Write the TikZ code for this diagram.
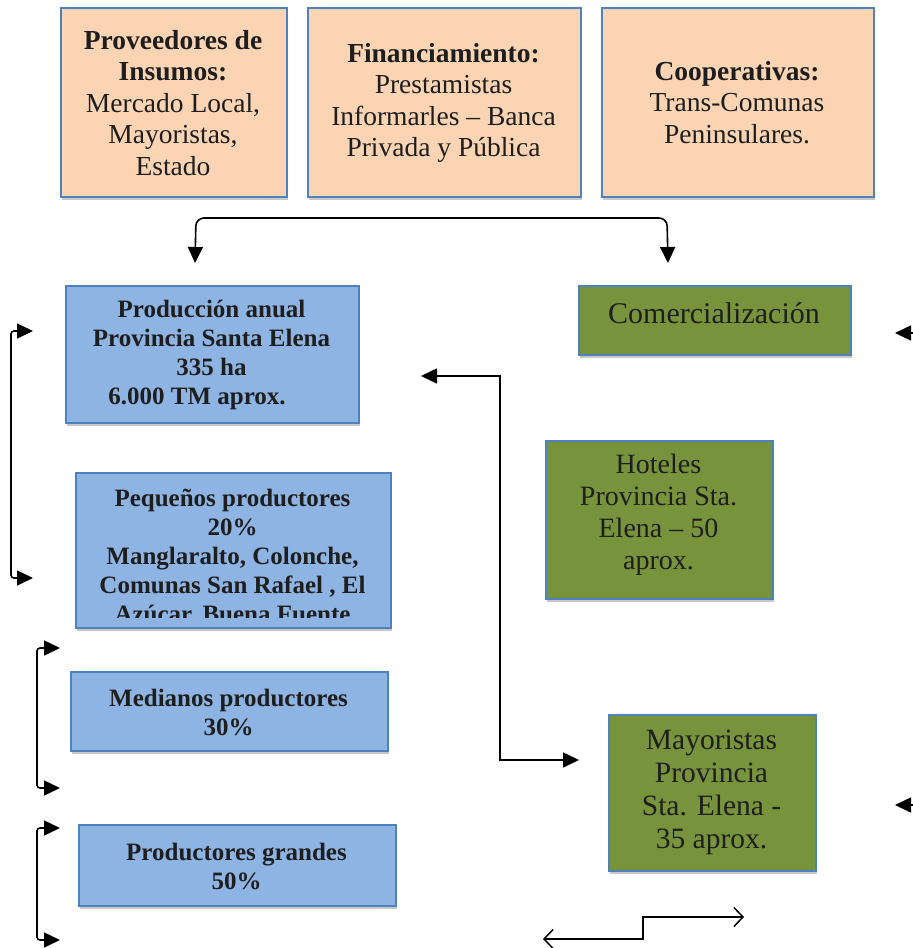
\documentclass[tikz,border=0pt]{standalone}
\usepackage{fontspec}
\setmainfont{Liberation Serif}
\usetikzlibrary{arrows.meta,shadows}
\definecolor{peach}{HTML}{FBD4B4}
\definecolor{bluefill}{HTML}{8EB4E3}
\definecolor{boxedge}{HTML}{4F81BD}
\definecolor{greenfill}{HTML}{77933C}
\definecolor{txt}{HTML}{1E1E1E}
\tikzset{
  box/.style={draw=boxedge,line width=1.5pt,inner sep=0pt,anchor=north west,
    drop shadow={shadow xshift=1.5pt,shadow yshift=-3.5pt,opacity=0.3,fill=black!70}},
  peachbox/.style={box,fill=peach},
  bluebox/.style={box,fill=bluefill},
  greenbox/.style={box,fill=greenfill},
  toptext/.style={align=center,text=txt,inner sep=0pt,font=\fontsize{27.5}{31.5}\selectfont},
  bluetext/.style={align=center,text=txt,inner sep=0pt,font=\bfseries\fontsize{25}{29}\selectfont},
  greentext/.style={align=center,text=txt,inner sep=0pt,font=\fontsize{28}{32}\selectfont},
  mytip/.tip={Triangle[length=16pt,width=15pt]},
  mybarb/.tip={Straight Barb[length=9pt,width=19pt]},
  conn/.style={line width=1.6pt,draw=black},
  openconn/.style={line width=1.5pt,draw=black,mybarb-mybarb}
}
\begin{document}
\begin{tikzpicture}[x=1pt,y=-1pt]
\path[use as bounding box,fill=white] (0,0) rectangle (913,948);

% top boxes
\node[peachbox,minimum width=226pt,minimum height=189pt] (prov) at (60,7) {};
\node[toptext] (provt) at (173,103) {\textbf{Proveedores de}\\\textbf{Insumos:}\\Mercado Local,\\Mayoristas,\\Estado};
\node[peachbox,minimum width=273pt,minimum height=189pt] (fin) at (307,7) {};
\node[toptext] (fint) at (443.5,103) {\textbf{Financiamiento:}\\Prestamistas\\Informarles -- Banca\\Privada y Pública};
\node[peachbox,minimum width=272pt,minimum height=189pt] (coop) at (601,7) {};
\node[toptext] (coopt) at (737,102.5) {\textbf{Cooperativas:}\\Trans-Comunas\\Peninsulares.};

% blue boxes
\node[bluebox,minimum width=293pt,minimum height=137pt] (prod) at (65,285) {};
\node[bluetext] (prodt) at (211.5,354.5) {Producción anual\\Provincia Santa Elena\\335 ha\\6.000 TM aprox.\hspace*{29pt}\mbox{}};
\node[bluebox,minimum width=315pt,minimum height=155pt] (peq) at (75,472) {};
\begin{scope}
\clip (77,474) rectangle (388,617.5);
\node[bluetext,anchor=north] (peqt) at (232.5,489) {Pequeños productores\\20\%\\Manglaralto, Colonche,\\Comunas San Rafael , El\\Azúcar, Buena Fuente};
\end{scope}
\node[bluebox,minimum width=317pt,minimum height=79pt] (med) at (70,671) {};
\node[bluetext] (medt) at (228.5,712.5) {Medianos productores\\30\%};
\node[bluebox,minimum width=317pt,minimum height=81pt] (gra) at (78,824) {};
\node[bluetext] (grat) at (236.5,866.5) {Productores grandes\\50\%};

% green boxes
\node[greenbox,minimum width=272pt,minimum height=69pt] (com) at (578,285) {};
\node[greentext,font=\fontsize{30}{34}\selectfont] (comt) at (714,313) {Comercialización};
\node[greenbox,minimum width=227pt,minimum height=158pt] (hot) at (545,440) {};
\node[greentext] (hott) at (658.5,514.5) {Hoteles\\Provincia Sta.\\Elena -- 50\\aprox.};
\node[greenbox,minimum width=207pt,minimum height=156pt] (may) at (608,714) {};
\node[greentext,font=\fontsize{29.5}{33}\selectfont] (mayt) at (711.5,792.5) {Mayoristas\\Provincia\\Sta. Elena -\\35 aprox.};

% coordinates for connector ends
\coordinate (tl) at (195,263);
\coordinate (tr) at (668,263);
\coordinate (l1a) at (33,331);
\coordinate (l1b) at (33,578);
\coordinate (l2a) at (60,648);
\coordinate (l2b) at (60,788);
\coordinate (l3a) at (60,828);
\coordinate (l3b) at (60,940);
\coordinate (ea) at (421,376);
\coordinate (eb) at (579,760);
\coordinate (r1s) at (913,333);
\coordinate (r1) at (895,333);
\coordinate (r2s) at (913,805);
\coordinate (r2) at (895,805);
\coordinate (za) at (543,939);
\coordinate (zb) at (744,917);

% connectors
\draw[conn,mytip-mytip,rounded corners=8pt] (tl) -- (196,218) -- (667,218) -- (tr);
\draw[conn,mytip-mytip,rounded corners=3pt] (l1a) -- (11,331) -- (11,578) -- (l1b);
\draw[conn,mytip-mytip,rounded corners=3pt] (l2a) -- (37,648) -- (37,788) -- (l2b);
\draw[conn,mytip-mytip,rounded corners=3pt] (l3a) -- (37,828) -- (37,940) -- (l3b);
\draw[conn,mytip-mytip] (ea) -- (500,376) -- (500,760) -- (eb);
\draw[conn,-mytip] (r1s) -- (r1);
\draw[conn,-mytip] (r2s) -- (r2);
\draw[openconn] (za) -- (643,939) -- (643,917) -- (zb);
\end{tikzpicture}
\end{document}
